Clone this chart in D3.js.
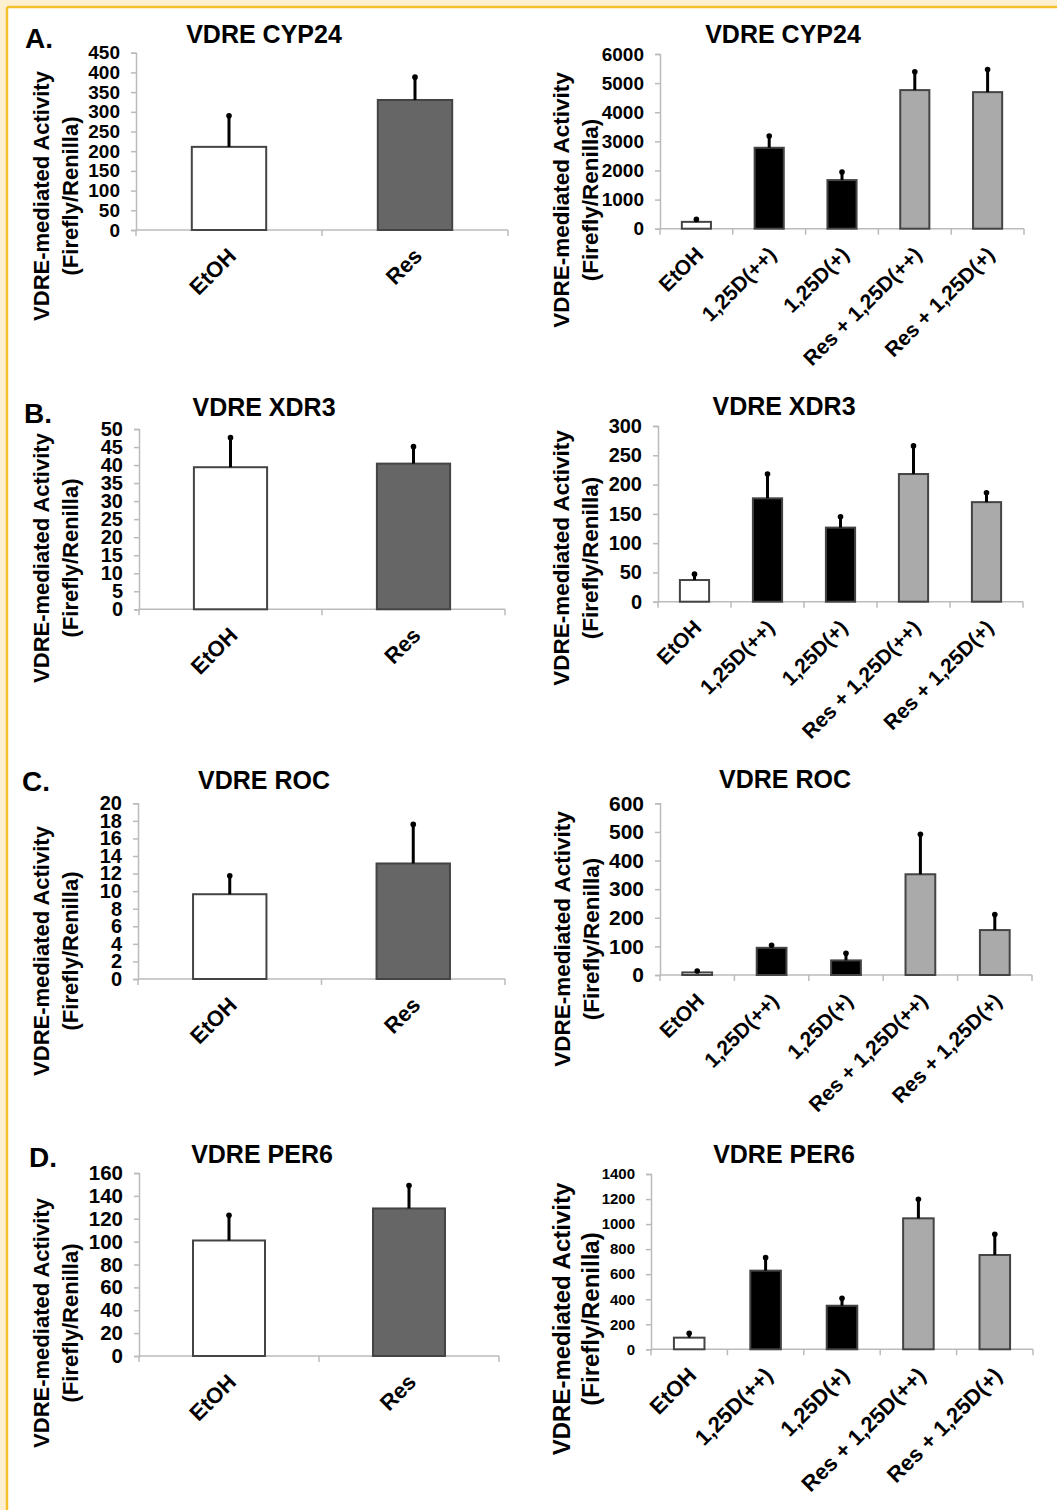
<!DOCTYPE html>
<html>
<head>
<meta charset="utf-8">
<script src="https://cdn.jsdelivr.net/npm/d3@7"></script>
<style>
  body { margin: 0; background: #fff; }
  svg { display: block; font-family: "Liberation Sans", Arial, sans-serif; }
</style>
</head>
<body>
<svg id="fig" width="1057" height="1510"></svg>
<script>
// categories
var leftCats = ["EtOH", "Res"];
var rightCats = ["EtOH", "1,25D(++)", "1,25D(+)", "Res + 1,25D(++)", "Res + 1,25D(+)"];
var leftFills = ["#ffffff", "#666666"];
var rightFills = ["#ffffff", "#000000", "#000000", "#aaaaaa", "#aaaaaa"];

// A. VDRE CYP24
var cyp24Left = [211, 330];
var cyp24LeftTop = [290, 388];
var cyp24Right = [235, 2780, 1670, 4760, 4690];
var cyp24RightTop = [320, 3180, 1945, 5390, 5470];
var cyp24LeftTicks = [0, 50, 100, 150, 200, 250, 300, 350, 400, 450];
var cyp24RightTicks = [0, 1000, 2000, 3000, 4000, 5000, 6000];

// B. VDRE XDR3
var xdr3Left = [39.4, 40.4];
var xdr3LeftTop = [47.6, 45.1];
var xdr3Right = [37, 176.5, 126.5, 218, 170];
var xdr3RightTop = [47, 218, 145, 266, 186];
var xdr3LeftTicks = [0, 5, 10, 15, 20, 25, 30, 35, 40, 45, 50];
var xdr3RightTicks = [0, 50, 100, 150, 200, 250, 300];

// C. VDRE ROC
var rocLeft = [9.65, 13.15];
var rocLeftTop = [11.75, 17.6];
var rocRight = [9, 95, 51, 352, 157];
var rocRightTop = [14, 104, 76, 492, 211];
var rocLeftTicks = [0, 2, 4, 6, 8, 10, 12, 14, 16, 18, 20];
var rocRightTicks = [0, 100, 200, 300, 400, 500, 600];

// D. VDRE PER6
var per6Left = [101, 129];
var per6LeftTop = [123, 149];
var per6Right = [93, 628, 348, 1046, 753];
var per6RightTop = [128, 732, 407, 1198, 918];
var per6LeftTicks = [0, 20, 40, 60, 80, 100, 120, 140, 160];
var per6RightTicks = [0, 200, 400, 600, 800, 1000, 1200, 1400];

var svg = d3.select("#fig");

// page frame (cream margin + orange rule, top and left only)
svg.append("rect").attr("x", 0).attr("y", 0).attr("width", 1057).attr("height", 6).attr("fill", "#fdf0d0");
svg.append("rect").attr("x", 0).attr("y", 0).attr("width", 6).attr("height", 1510).attr("fill", "#fdf0d0");
svg.append("line").attr("x1", 7).attr("y1", 7).attr("x2", 1057).attr("y2", 7)
  .attr("stroke", "#f4c02c").attr("stroke-width", 2.5);
svg.append("line").attr("x1", 7).attr("y1", 7).attr("x2", 7).attr("y2", 1510)
  .attr("stroke", "#f4c02c").attr("stroke-width", 2.5);

function drawPanel(p) {
  var g = svg.append("g");

  var x = d3.scaleBand()
    .domain(p.cats)
    .range([p.x0, p.x1])
    .paddingInner(0.6)
    .paddingOuter(0.3);

  var y = d3.scaleLinear()
    .domain([0, p.max])
    .range([p.y0, p.yTop]);

  // y axis
  var yAxis = d3.axisLeft(y).tickValues(p.ticks).tickFormat(d3.format("d")).tickSize(5).tickPadding(11);
  var ya = g.append("g").attr("transform", "translate(" + p.x0 + ",0)").call(yAxis);
  ya.select(".domain").attr("stroke", "#bbbbbb").attr("stroke-width", 1.5);
  ya.selectAll(".tick line").attr("stroke", "#bbbbbb").attr("stroke-width", 1.5);
  ya.selectAll(".tick text")
    .attr("fill", "#000")
    .attr("font-size", p.tickSize + "px")
    .attr("font-weight", "bold")
    .attr("font-family", "Liberation Sans, Arial, sans-serif");

  // x axis line with ticks at category boundaries
  g.append("line")
    .attr("x1", p.x0).attr("x2", p.x1)
    .attr("y1", p.y0).attr("y2", p.y0)
    .attr("stroke", "#bbbbbb").attr("stroke-width", 1.5);
  var step = x.step();
  var bounds = d3.range(p.cats.length + 1).map(function (i) { return p.x0 + i * step; });
  g.selectAll(".xtick")
    .data(bounds)
    .enter()
    .append("line")
    .attr("x1", function (d) { return d; })
    .attr("x2", function (d) { return d; })
    .attr("y1", p.y0)
    .attr("y2", p.y0 + 6)
    .attr("stroke", "#bbbbbb").attr("stroke-width", 1.5);

  // bars
  g.selectAll(".bar")
    .data(p.values)
    .enter()
    .append("rect")
    .attr("x", function (d, i) { return x(p.cats[i]); })
    .attr("y", function (d) { return y(d); })
    .attr("width", x.bandwidth())
    .attr("height", function (d) { return p.y0 - y(d); })
    .attr("fill", function (d, i) { return p.fills[i]; })
    .attr("stroke", "#444444")
    .attr("stroke-width", 2);

  // error bars (upper only)
  g.selectAll(".err")
    .data(p.tops)
    .enter()
    .append("line")
    .attr("x1", function (d, i) { return x(p.cats[i]) + x.bandwidth() / 2; })
    .attr("x2", function (d, i) { return x(p.cats[i]) + x.bandwidth() / 2; })
    .attr("y1", function (d, i) { return y(p.values[i]); })
    .attr("y2", function (d) { return y(d); })
    .attr("stroke", "#000")
    .attr("stroke-width", 3);
  g.selectAll(".cap")
    .data(p.tops)
    .enter()
    .append("circle")
    .attr("cx", function (d, i) { return x(p.cats[i]) + x.bandwidth() / 2; })
    .attr("cy", function (d) { return y(d); })
    .attr("r", 2.8)
    .attr("fill", "#000");

  // category labels
  g.selectAll(".xlab")
    .data(p.cats)
    .enter()
    .append("text")
    .attr("transform", function (d) {
      return "translate(" + (x(d) + x.bandwidth() / 2 + 3) + "," + (p.y0 + 22) + ") rotate(-45)";
    })
    .attr("text-anchor", "end")
    .attr("dy", "0.35em")
    .attr("font-size", p.labelSize + "px")
    .attr("font-weight", "bold")
    .text(function (d) { return d; });

  // title
  g.append("text")
    .attr("x", p.titleX)
    .attr("y", p.titleY)
    .attr("text-anchor", "middle")
    .attr("font-size", "25px")
    .attr("font-weight", "bold")
    .text(p.title);

  // y axis title, two lines
  var lines = ["VDRE-mediated Activity", "(Firefly/Renilla)"];
  g.selectAll(".ytitle")
    .data(lines)
    .enter()
    .append("text")
    .attr("transform", function (d, i) {
      return "translate(" + (p.yTitleX + i * 29) + "," + p.yTitleY + ") rotate(-90)";
    })
    .attr("text-anchor", "middle")
    .attr("dy", "0.35em")
    .attr("font-size", p.yTitleSize + "px")
    .attr("font-weight", "bold")
    .text(function (d) { return d; });

  if (p.letter) {
    g.append("text")
      .attr("x", p.letterX)
      .attr("y", p.letterY)
      .attr("font-size", "28px")
      .attr("font-weight", "bold")
      .text(p.letter);
  }
}

var panels = [
  { cats: leftCats, fills: leftFills, values: cyp24Left, tops: cyp24LeftTop, ticks: cyp24LeftTicks, max: 450,
    x0: 136, x1: 508, y0: 230, yTop: 52.7, tickSize: 19, labelSize: 22,
    title: "VDRE CYP24", titleX: 264, titleY: 43, yTitleX: 41, yTitleY: 196, yTitleSize: 22,
    letter: "A.", letterX: 25, letterY: 48 },
  { cats: rightCats, fills: rightFills, values: cyp24Right, tops: cyp24RightTop, ticks: cyp24RightTicks, max: 6000,
    x0: 660, x1: 1024, y0: 228.7, yTop: 54, tickSize: 19, labelSize: 21,
    title: "VDRE CYP24", titleX: 783, titleY: 43, yTitleX: 561, yTitleY: 200, yTitleSize: 22.5 },

  { cats: leftCats, fills: leftFills, values: xdr3Left, tops: xdr3LeftTop, ticks: xdr3LeftTicks, max: 50,
    x0: 139, x1: 505, y0: 609.3, yTop: 429, tickSize: 20, labelSize: 22,
    title: "VDRE XDR3", titleX: 264, titleY: 416, yTitleX: 41, yTitleY: 558, yTitleSize: 22,
    letter: "B.", letterX: 24, letterY: 423 },
  { cats: rightCats, fills: rightFills, values: xdr3Right, tops: xdr3RightTop, ticks: xdr3RightTicks, max: 300,
    x0: 658, x1: 1023, y0: 601.7, yTop: 426, tickSize: 20, labelSize: 21,
    title: "VDRE XDR3", titleX: 784, titleY: 415, yTitleX: 561, yTitleY: 558, yTitleSize: 22.5 },

  { cats: leftCats, fills: leftFills, values: rocLeft, tops: rocLeftTop, ticks: rocLeftTicks, max: 20,
    x0: 138, x1: 505, y0: 979, yTop: 803.3, tickSize: 20, labelSize: 22,
    title: "VDRE ROC", titleX: 264, titleY: 789, yTitleX: 41, yTitleY: 951, yTitleSize: 22,
    letter: "C.", letterX: 22, letterY: 791 },
  { cats: rightCats, fills: rightFills, values: rocRight, tops: rocRightTop, ticks: rocRightTicks, max: 600,
    x0: 660, x1: 1032, y0: 975, yTop: 803.3, tickSize: 21, labelSize: 21,
    title: "VDRE ROC", titleX: 785, titleY: 788, yTitleX: 562, yTitleY: 939, yTitleSize: 22.5 },

  { cats: leftCats, fills: leftFills, values: per6Left, tops: per6LeftTop, ticks: per6LeftTicks, max: 160,
    x0: 139, x1: 499, y0: 1356, yTop: 1173, tickSize: 20.5, labelSize: 22,
    title: "VDRE PER6", titleX: 262, titleY: 1163, yTitleX: 41, yTitleY: 1323, yTitleSize: 22,
    letter: "D.", letterX: 29, letterY: 1167 },
  { cats: rightCats, fills: rightFills, values: per6Right, tops: per6RightTop, ticks: per6RightTicks, max: 1400,
    x0: 651, x1: 1033, y0: 1349.3, yTop: 1174, tickSize: 15, labelSize: 22,
    title: "VDRE PER6", titleX: 784, titleY: 1163, yTitleX: 562, yTitleY: 1319, yTitleSize: 24 }
];

panels.forEach(drawPanel);
</script>
</body>
</html>
